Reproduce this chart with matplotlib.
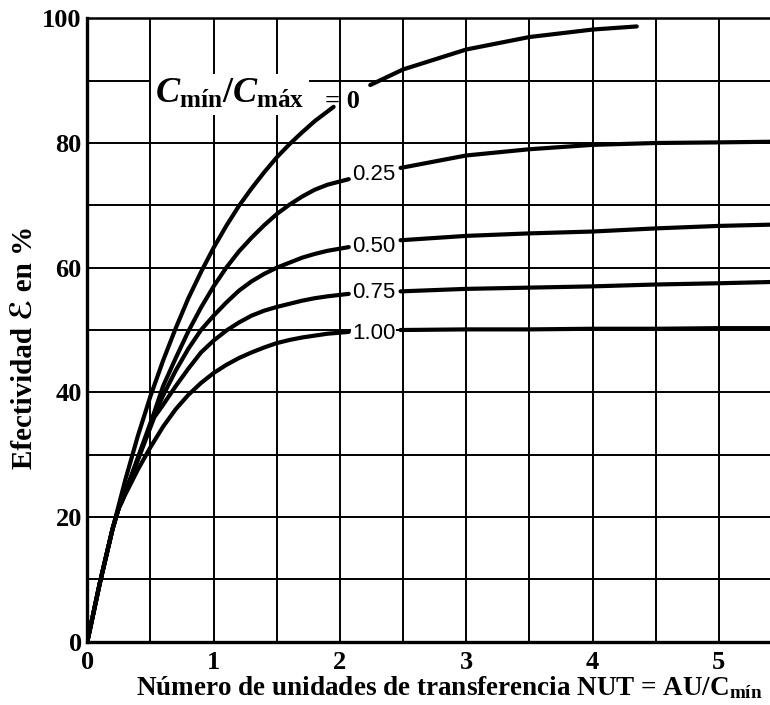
import numpy as np
import matplotlib
matplotlib.use('Agg')
import matplotlib.pyplot as plt

plt.rcParams['font.family'] = ['Liberation Serif', 'DejaVu Sans']
plt.rcParams['font.weight'] = 'bold'
plt.rcParams['mathtext.fontset'] = 'custom'
plt.rcParams['mathtext.rm'] = 'Liberation Serif:bold'
plt.rcParams['mathtext.it'] = 'Liberation Serif:italic:bold'
plt.rcParams['mathtext.bf'] = 'Liberation Serif:bold'

# values (NUT, effectiveness in %)
# C = 0, split around its label
nut_c0_low = [0, 0.1, 0.2, 0.3, 0.4, 0.5, 0.6, 0.7, 0.8, 0.9, 1.0, 1.1, 1.2,
              1.3, 1.4, 1.5, 1.6, 1.7, 1.8, 1.95]
eff_c0_low = [0, 9.5, 18.1, 25.9, 33.0, 39.4, 45.1, 50.3, 55.1, 59.3, 63.2,
              66.7, 69.9, 72.7, 75.3, 77.7, 79.8, 81.7, 83.5, 85.8]
nut_c0_high = [2.24, 2.5, 3.0, 3.5, 4.0, 4.35]
eff_c0_high = [89.3, 91.8, 95.0, 97.0, 98.2, 98.7]

# common start of the other curves
nut_start = [0, 0.1, 0.2, 0.25, 0.28]
eff_start = [0, 9.5, 18.1, 21.5, 22.8]

# C = 0.25, 0.50, 0.75 leave the junction near NUT 0.53
nut_branch = [0.53, 0.6, 0.7, 0.8, 0.9, 1.0, 1.1, 1.2, 1.3, 1.4, 1.5, 1.6,
              1.7, 1.8, 1.9, 2.07]
eff_c025_low = [36.8, 41.0, 45.5, 49.8, 53.6, 57.0, 60.0, 62.6, 64.8, 66.8,
                68.6, 70.1, 71.4, 72.5, 73.3, 74.2]
eff_c050_low = [36.4, 39.5, 43.5, 47.0, 50.0, 52.3, 54.4, 56.3, 57.8, 59.0,
                60.0, 60.8, 61.6, 62.2, 62.7, 63.3]
eff_c075_low = [36.0, 38.0, 41.0, 43.8, 46.4, 48.3, 49.9, 51.2, 52.3, 53.1,
                53.7, 54.2, 54.7, 55.1, 55.4, 55.8]

nut_c100_low = [0.35, 0.4, 0.5, 0.6, 0.7, 0.8, 0.9, 1.0, 1.1, 1.2, 1.3, 1.4,
                1.5, 1.6, 1.7, 1.8, 1.9, 2.07]
eff_c100_low = [25.6, 27.6, 31.2, 34.5, 37.3, 39.6, 41.5, 43.1, 44.4, 45.5,
                46.4, 47.2, 47.9, 48.4, 48.8, 49.1, 49.4, 49.7]

# right part of the curves, after the labels
nut_high = [2.48, 3.0, 3.5, 4.0, 4.5, 5.0, 5.41]
eff_c025_high = [76.0, 78.0, 79.0, 79.7, 80.0, 80.1, 80.2]
eff_c050_high = [64.4, 65.1, 65.5, 65.8, 66.3, 66.7, 66.9]
eff_c075_high = [56.2, 56.6, 56.8, 57.0, 57.3, 57.5, 57.7]
eff_c100_high = [50.0, 50.1, 50.1, 50.2, 50.2, 50.3, 50.3]

ratio_labels = ['0.25', '0.50', '0.75', '1.00']
label_eff = [74.9, 63.4, 56.0, 49.5]

x_ticks = [0, 1, 2, 3, 4, 5]
y_ticks = [0, 20, 40, 60, 80, 100]

fig = plt.figure(figsize=(7.7, 7.05), dpi=100)
ax = fig.add_axes([0.1134, 0.0898, 0.8866, 0.8842])

ax.set_xlim(0, 5.405)
ax.set_ylim(0, 100)
ax.set_xticks(x_ticks)
ax.set_xticks(np.arange(0, 5.5, 0.5), minor=True)
ax.set_yticks(y_ticks)
ax.set_yticks(np.arange(0, 101, 10), minor=True)
ax.grid(True, which='both', color='black', linewidth=1.4)
ax.set_axisbelow(True)
ax.tick_params(which='both', length=0)
ax.tick_params(axis='x', pad=7, labelsize=19)
ax.tick_params(axis='y', pad=4, labelsize=19)

ax.spines['right'].set_visible(False)
ax.spines['left'].set_linewidth(2.4)
ax.spines['bottom'].set_linewidth(2.4)
ax.spines['top'].set_linewidth(1.8)

lw = 3.0
kw = dict(color='black', linewidth=lw, solid_capstyle='round', zorder=3)

ax.plot(nut_c0_low, eff_c0_low, **kw)
ax.plot(nut_c0_high, eff_c0_high, **kw)

for low, high in [(eff_c025_low, eff_c025_high),
                  (eff_c050_low, eff_c050_high),
                  (eff_c075_low, eff_c075_high)]:
    ax.plot(nut_start + nut_branch, eff_start + low, **kw)
    ax.plot(nut_high, high, **kw)

ax.plot(nut_start + nut_c100_low, eff_start + eff_c100_low, **kw)
ax.plot(nut_high, eff_c100_high, **kw)

for lab, e in zip(ratio_labels, label_eff):
    ax.text(2.095, e, lab, family='Liberation Sans', fontweight='normal',
            fontsize=16, ha='left', va='center', zorder=4,
            bbox=dict(facecolor='white', edgecolor='none', pad=0.5))

ax.text(0.536, 86.4, r'$C_{\mathrm{mín}}/C_{\mathrm{máx}}$', fontsize=26,
        ha='left', va='baseline', zorder=4,
        bbox=dict(facecolor='white', edgecolor='none', pad=3))
ax.text(1.885, 85.6, '= 0', fontsize=19, ha='left', va='baseline', zorder=4)

fig.text(0.0325, 0.507, 'Efectividad ℰ en %', rotation=90, fontsize=21,
         ha='center', va='center')
fig.text(0.584, 0.0142,
         r'Número de unidades de transferencia NUT = AU/C$_{\mathrm{mín}}$',
         fontsize=19.5, ha='center', va='baseline')

fig.savefig('out.png', dpi=100)
